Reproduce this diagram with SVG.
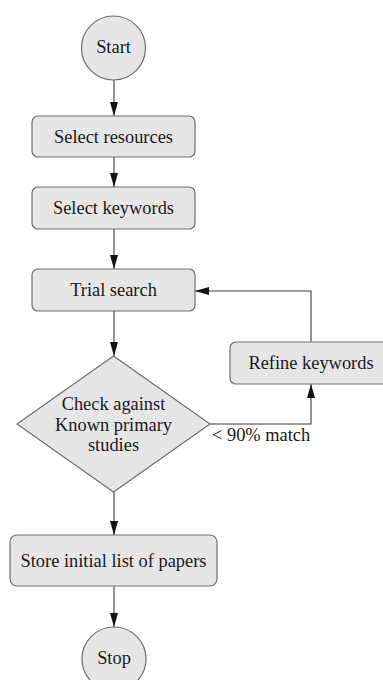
<svg xmlns="http://www.w3.org/2000/svg" width="383" height="680" viewBox="0 0 383 680">
<style>
.n{fill:#e6e6e6;stroke:#6e6e6e;stroke-width:1.2}
.t{font-family:"Liberation Serif","Times New Roman",serif;font-size:18.4px;fill:#1a1a1a;text-anchor:middle}
.c{fill:none;stroke:#3a3a3a;stroke-width:1.1}
</style>
<defs>
<marker id="ah" markerWidth="14" markerHeight="8" refX="14" refY="4" orient="auto" markerUnits="userSpaceOnUse">
<path d="M0,0 L14,4 L0,8 Z" fill="#111"/>
</marker>
</defs>
<rect width="383" height="680" fill="#fff"/>
<g id="connectors">
<line class="c" x1="114" y1="80" x2="114" y2="116" marker-end="url(#ah)"/>
<line class="c" x1="114" y1="157" x2="114" y2="187" marker-end="url(#ah)"/>
<line class="c" x1="114" y1="229" x2="114" y2="269" marker-end="url(#ah)"/>
<line class="c" x1="114" y1="311" x2="114" y2="356" marker-end="url(#ah)"/>
<polyline class="c" points="210,424 311,424 311,384" marker-end="url(#ah)"/>
<polyline class="c" points="311,342 311,291 195,291" marker-end="url(#ah)"/>
<line class="c" x1="114" y1="492" x2="114" y2="535" marker-end="url(#ah)"/>
<line class="c" x1="114" y1="586" x2="114" y2="627" marker-end="url(#ah)"/>
<text class="t" x="212" y="441" text-anchor="start" style="text-anchor:start">&lt; 90% match</text>
</g>
<g id="start">
<circle class="n" cx="113.5" cy="48" r="32"/>
<text class="t" x="113.5" y="53">Start</text>
</g>
<g id="select-resources">
<rect class="n" x="32" y="116" width="163" height="41" rx="6"/>
<text class="t" x="113.5" y="143">Select resources</text>
</g>
<g id="select-keywords">
<rect class="n" x="32" y="187" width="163" height="42" rx="6"/>
<text class="t" x="113.5" y="214">Select keywords</text>
</g>
<g id="trial-search">
<rect class="n" x="32" y="269" width="163" height="42" rx="6"/>
<text class="t" x="113.5" y="296">Trial search</text>
</g>
<g id="check">
<polygon class="n" points="113.5,356 210,424 113.5,492 17,424"/>
<text class="t" x="113.5" y="410">Check against</text>
<text class="t" x="113.5" y="431">Known primary</text>
<text class="t" x="113.5" y="451">studies</text>
</g>
<g id="refine-keywords">
<rect class="n" x="230" y="342" width="162" height="42" rx="6"/>
<text class="t" x="311" y="369">Refine keywords</text>
</g>
<g id="store">
<rect class="n" x="10" y="535" width="207" height="51" rx="7"/>
<text class="t" x="113.5" y="567">Store initial list of papers</text>
</g>
<g id="stop">
<circle class="n" cx="114" cy="659" r="32"/>
<text class="t" x="114" y="664">Stop</text>
</g>
</svg>
